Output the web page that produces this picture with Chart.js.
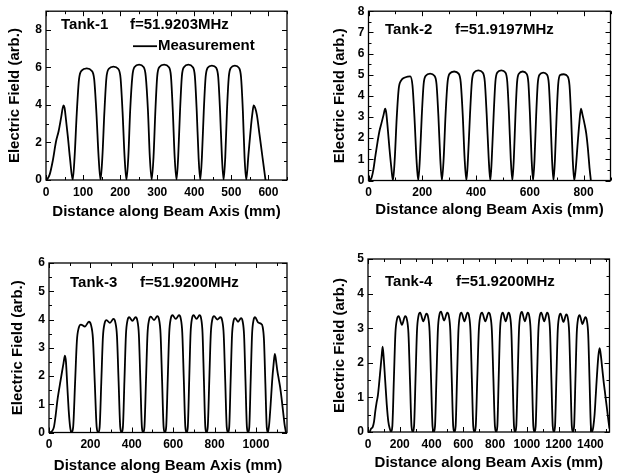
<!DOCTYPE html>
<html>
<head>
<meta charset="utf-8">
<script src="https://cdn.jsdelivr.net/npm/chart.js@4.4.1/dist/chart.umd.min.js"></script>
<style>
  body { margin: 0; background: #fff; }
  #wrap { position: relative; width: 618px; height: 475px; }
  #wrap canvas { position: absolute; }
</style>
</head>
<body>
<div id="wrap">
  <canvas id="tank1" style="left:0;top:0"></canvas>
  <canvas id="tank2" style="left:309px;top:0"></canvas>
  <canvas id="tank3" style="left:0;top:237px"></canvas>
  <canvas id="tank4" style="left:309px;top:237px"></canvas>
</div>
<script>
// ---- Tank-1 ----
const tank1X = [
  2, 10, 18, 27, 34, 41, 47, 50, 54, 59, 65,
  72, 77, 83, 89, 96, 110, 123, 130, 136, 142,
  147, 152, 157.5, 163, 169.5, 182, 194.5, 201, 206.5, 212,
  217, 222, 227, 233, 239, 251, 263, 269, 275, 280,
  285, 290, 295, 300, 306, 318.5, 331, 337, 342, 347,
  352, 356.5, 361.5, 366.5, 372.5, 384, 395.5, 401.5, 406.5, 411.5,
  416, 420.5, 425.5, 430.5, 436, 447.5, 459, 464.5, 469.5, 474.5,
  479, 483.5, 488, 493, 498.5, 509.5, 520.5, 526, 531, 535.5,
  540, 546, 553, 557, 560, 564, 569, 576, 584, 592
];
const tank1Y = [
  0, 0.3, 1.0, 2.05, 2.6, 3.35, 3.98, 3.85, 3.2, 2.3, 1.1,
  0, 1.19, 3.57, 5.36, 5.83, 5.95, 5.83, 5.36, 3.57, 1.19,
  0, 1.21, 3.63, 5.45, 5.93, 6.05, 5.93, 5.45, 3.63, 1.21,
  0, 1.23, 3.69, 5.54, 6.03, 6.15, 6.03, 5.54, 3.69, 1.23,
  0, 1.23, 3.69, 5.54, 6.03, 6.15, 6.03, 5.54, 3.69, 1.23,
  0, 1.23, 3.69, 5.54, 6.03, 6.15, 6.03, 5.54, 3.69, 1.23,
  0, 1.22, 3.66, 5.49, 5.98, 6.1, 5.98, 5.49, 3.66, 1.22,
  0, 1.22, 3.66, 5.49, 5.98, 6.1, 5.98, 5.49, 3.66, 1.22,
  0, 1.35, 2.9, 3.6, 3.98, 3.85, 3.45, 2.4, 1.2, 0
];
const tank1XTicks = [0, 100, 200, 300, 400, 500, 600];
const tank1XMinor = [50, 150, 250, 350, 450, 550, 650];
const tank1YTicks = [0, 2, 4, 6, 8];
const tank1YMinor = [1, 3, 5, 7, 9];

// ---- Tank-2 ----
const tank2X = [
  5, 12, 18, 26, 34, 41, 48, 56, 62, 66, 72, 78, 85,
  91, 97.5, 105, 112.5, 121, 138, 155, 163.5, 171, 178.5,
  185, 191, 198, 205, 213, 229, 245, 253, 260, 267,
  273, 279.5, 286.5, 294, 302, 318.5, 335, 343, 350.5, 357.5,
  364, 370, 377.5, 384.5, 392.5, 408.5, 424.5, 432.5, 439.5, 447,
  453, 458.5, 465.5, 472, 479, 494, 509, 516, 522.5, 529,
  535, 540.5, 546.5, 552.5, 559.5, 573.5, 587.5, 594.5, 600.5, 606.5,
  612, 617.5, 623.5, 629.5, 636, 650, 664, 670.5, 676.5, 682.5,
  688, 693.5, 699.5, 705.5, 712.5, 726.5, 740.5, 747.5, 753.5, 759.5,
  765, 771, 777, 784, 790, 796, 803, 810, 816, 822, 827
];
const tank2Y = [
  0, 0.15, 0.5, 1.2, 1.85, 2.35, 2.7, 3.1, 3.4, 3.2, 2.4, 1.5, 0.6,
  0, 0.99, 2.97, 4.35, 4.72, 4.88, 4.92, 4.5, 2.97, 0.99,
  0, 1.01, 3.03, 4.55, 4.95, 5.05, 4.95, 4.55, 3.03, 1.01,
  0, 1.03, 3.09, 4.64, 5.05, 5.15, 5.05, 4.64, 3.09, 1.03,
  0, 1.04, 3.12, 4.68, 5.1, 5.2, 5.1, 4.68, 3.12, 1.04,
  0, 1.04, 3.12, 4.68, 5.1, 5.2, 5.1, 4.68, 3.12, 1.04,
  0, 1.03, 3.09, 4.64, 5.05, 5.15, 5.05, 4.64, 3.09, 1.03,
  0, 1.02, 3.06, 4.59, 5.0, 5.1, 5.0, 4.59, 3.06, 1.02,
  0, 1.01, 3.03, 4.55, 4.98, 5.02, 4.92, 4.5, 3.03, 1.01,
  0, 0.6, 1.6, 2.7, 3.4, 3.1, 2.7, 2.2, 1.5, 0.6, 0
];
const tank2XTicks = [0, 200, 400, 600, 800];
const tank2XMinor = [100, 300, 500, 700, 900];
const tank2YTicks = [0, 1, 2, 3, 4, 5, 6, 7, 8];
const tank2YMinor = [0.5, 1.5, 2.5, 3.5, 4.5, 5.5, 6.5, 7.5];

// ---- Tank-3 ----
const tank3X = [
  5, 15, 24, 32, 40, 46, 55, 63, 70, 77, 82, 88, 95, 102,
  109, 116.7, 125.8, 134.8, 143.8, 154.2, 173.5, 192.9, 203.2, 212.2, 221.2, 230.3,
  238, 244.8, 252.7, 260.6, 268.5, 277.6, 294.5, 311.5, 320.5, 328.4, 336.3, 344.2,
  351, 357.2, 364.5, 371.8, 379.1, 387.4, 403, 418.6, 426.9, 434.2, 441.5, 448.8,
  455, 461.3, 468.7, 476, 483.4, 491.8, 507.5, 523.3, 531.7, 539, 546.4, 553.7,
  560, 566.3, 573.7, 581, 588.4, 596.8, 612.5, 628.3, 636.7, 644, 651.4, 658.7,
  665, 670.8, 677.5, 684.2, 690.9, 698.6, 713, 727.4, 735.1, 741.8, 748.5, 755.2,
  761, 767.2, 774.5, 781.8, 789.1, 797.4, 813, 828.6, 836.9, 844.2, 851.5, 858.8,
  865, 870.8, 877.6, 884.4, 891.2, 899, 913.5, 928, 935.8, 942.6, 949.4, 956.2,
  962, 967.8, 974.5, 981.2, 987.9, 995.6, 1010, 1024.4, 1032.1, 1038.8, 1045.5, 1052.2,
  1058, 1064, 1071, 1078, 1085, 1091, 1096, 1103, 1110, 1117, 1124, 1131, 1138, 1145
];
const tank3Y = [
  0, 0.05, 0.2, 0.6, 1.1, 1.4, 1.8, 2.15, 2.45, 2.72, 2.5, 1.7, 0.8, 0.2,
  0, 0.19, 1.72, 3.25, 3.71, 3.82, 3.75, 3.92, 3.8, 3.33, 1.76, 0.2,
  0, 0.2, 1.79, 3.38, 3.86, 3.98, 3.88, 4.02, 3.9, 3.42, 1.81, 0.2,
  0, 0.2, 1.84, 3.47, 3.96, 4.08, 3.95, 4.08, 3.96, 3.47, 1.84, 0.2,
  0, 0.21, 1.85, 3.49, 3.98, 4.1, 3.98, 4.12, 4.0, 3.5, 1.85, 0.21,
  0, 0.21, 1.87, 3.53, 4.03, 4.15, 4.02, 4.15, 4.03, 3.53, 1.87, 0.21,
  0, 0.21, 1.87, 3.53, 4.03, 4.15, 4.02, 4.15, 4.03, 3.53, 1.87, 0.21,
  0, 0.21, 1.85, 3.5, 4.0, 4.12, 4.0, 4.08, 3.96, 3.47, 1.84, 0.2,
  0, 0.2, 1.82, 3.44, 3.93, 4.05, 3.92, 4.05, 3.93, 3.44, 1.82, 0.2,
  0, 0.2, 1.84, 3.47, 3.96, 4.08, 3.9, 3.85, 3.75, 3.27, 1.73, 0.19,
  0, 0.3, 1.0, 1.8, 2.4, 2.78, 2.6, 2.2, 1.9, 1.6, 1.2, 0.75, 0.3, 0
];
const tank3XTicks = [0, 200, 400, 600, 800, 1000];
const tank3XMinor = [100, 300, 500, 700, 900, 1100];
const tank3YTicks = [0, 1, 2, 3, 4, 5, 6];
const tank3YMinor = [0.5, 1.5, 2.5, 3.5, 4.5, 5.5];

// ---- Tank-4 ----
const tank4X = [
  10, 20, 30, 38, 46, 54, 62, 70, 78, 86, 92, 98, 108, 118, 128, 137,
  145, 153.2, 162.8, 172.4, 182, 193, 213.5, 234, 245, 254.6, 264.2, 273.8,
  282, 289.9, 299.2, 308.4, 317.6, 328.2, 348, 367.8, 378.4, 387.6, 396.8, 406.1,
  414, 421.8, 430.9, 440, 449.1, 459.5, 479, 498.5, 508.9, 518, 527.1, 536.2,
  544, 551.6, 560.4, 569.2, 578, 588.1, 607, 625.9, 636, 644.8, 653.6, 662.4,
  670, 678.2, 687.8, 697.4, 707, 718, 738.5, 759, 770, 779.6, 789.2, 798.8,
  807, 814.1, 822.5, 830.8, 839.1, 848.7, 866.5, 884.4, 893.9, 902.2, 910.5, 918.9,
  926, 933.3, 941.9, 950.4, 958.9, 968.7, 987, 1005.3, 1015.1, 1023.6, 1032.1, 1040.7,
  1048, 1055.3, 1063.9, 1072.4, 1080.9, 1090.7, 1109, 1127.3, 1137.1, 1145.6, 1154.1, 1162.7,
  1170, 1177.2, 1185.6, 1194, 1202.4, 1212, 1230, 1248, 1257.6, 1266, 1274.4, 1282.8,
  1290, 1297.2, 1305.6, 1314, 1322.4, 1332, 1350, 1368, 1377.6, 1386, 1394.4, 1402.8,
  1410, 1418, 1426, 1434, 1442, 1450, 1458, 1466, 1474, 1482, 1490, 1498, 1506, 1514, 1520
];
const tank4Y = [
  0, 0.1, 0.15, 0.3, 0.6, 0.85, 1.05, 1.4, 1.8, 2.2, 2.47, 2.2, 1.5, 0.8, 0.3, 0.1,
  0, 0.17, 1.51, 2.85, 3.25, 3.35, 3.1, 3.35, 3.25, 2.85, 1.51, 0.17,
  0, 0.17, 1.55, 2.93, 3.35, 3.45, 3.2, 3.42, 3.32, 2.91, 1.54, 0.17,
  0, 0.17, 1.57, 2.96, 3.38, 3.48, 3.22, 3.45, 3.35, 2.93, 1.55, 0.17,
  0, 0.17, 1.55, 2.93, 3.35, 3.45, 3.2, 3.45, 3.35, 2.93, 1.55, 0.17,
  0, 0.17, 1.55, 2.93, 3.35, 3.45, 3.2, 3.45, 3.35, 2.93, 1.55, 0.17,
  0, 0.17, 1.55, 2.93, 3.35, 3.45, 3.2, 3.45, 3.35, 2.93, 1.55, 0.17,
  0, 0.17, 1.56, 2.95, 3.37, 3.47, 3.2, 3.45, 3.35, 2.93, 1.55, 0.17,
  0, 0.17, 1.55, 2.93, 3.35, 3.45, 3.2, 3.45, 3.35, 2.93, 1.55, 0.17,
  0, 0.17, 1.54, 2.91, 3.32, 3.42, 3.18, 3.4, 3.3, 2.89, 1.53, 0.17,
  0, 0.17, 1.52, 2.87, 3.28, 3.38, 3.12, 3.32, 3.22, 2.82, 1.49, 0.17,
  0, 0.15, 0.5, 1.1, 1.7, 2.2, 2.42, 2.2, 1.85, 1.5, 1.2, 0.9, 0.6, 0.3, 0.1
];
const tank4XTicks = [0, 200, 400, 600, 800, 1000, 1200, 1400];
const tank4XMinor = [100, 300, 500, 700, 900, 1100, 1300, 1500];
const tank4YTicks = [0, 1, 2, 3, 4, 5];
const tank4YMinor = [0.5, 1.5, 2.5, 3.5, 4.5];

const FONT = '"Liberation Sans", Arial, Helvetica, sans-serif';

// box round the plot, inward ticks on all four sides, text inside the plot
const framePlugin = {
  id: "frame",
  afterDatasetsDraw(chart, args, opts) {
    const { ctx, chartArea: a, scales } = chart;
    const x = scales.x, y = scales.y;
    ctx.save();
    ctx.strokeStyle = "#000";
    ctx.lineWidth = 1.3;
    ctx.strokeRect(a.left, a.top, a.right - a.left, a.bottom - a.top);

    ctx.lineWidth = 1;
    ctx.beginPath();
    const xt = (vals, len) => vals.forEach(function (v) {
      const p = Math.round(x.getPixelForValue(v)) + 0.5;
      ctx.moveTo(p, a.bottom); ctx.lineTo(p, a.bottom - len);
      ctx.moveTo(p, a.top); ctx.lineTo(p, a.top + len);
    });
    const yt = (vals, len) => vals.forEach(function (v) {
      const p = Math.round(y.getPixelForValue(v)) + 0.5;
      ctx.moveTo(a.left, p); ctx.lineTo(a.left + len, p);
      ctx.moveTo(a.right, p); ctx.lineTo(a.right - len, p);
    });
    xt(opts.xMajor, 5); xt(opts.xMinor, 3);
    yt(opts.yMajor, 5); yt(opts.yMinor, 3);
    ctx.stroke();

    ctx.fillStyle = "#000";
    ctx.font = "bold 15px " + FONT;
    ctx.textBaseline = "middle";
    ctx.textAlign = "left";
    opts.labels.forEach(function (t) {
      ctx.fillText(t.text, a.left + t.dx, a.top + t.dy);
    });

    if (opts.legend) {
      const ds = chart.data.datasets[0];
      const lg = opts.legend;
      ctx.strokeStyle = ds.borderColor;
      ctx.lineWidth = ds.borderWidth;
      ctx.beginPath();
      ctx.moveTo(a.left + lg.dx, a.top + lg.dy);
      ctx.lineTo(a.left + lg.dx + lg.len, a.top + lg.dy);
      ctx.stroke();
      ctx.fillText(ds.label, a.left + lg.dx + lg.len + 1, a.top + lg.dy);
    }
    ctx.restore();
  },
};

function makePanel(p) {
  const canvas = document.getElementById(p.id);
  canvas.width = p.w;
  canvas.height = p.h;
  const points = p.xs.map(function (v, i) { return { x: v, y: p.ys[i] }; });

  return new Chart(canvas, {
    type: "scatter",
    data: {
      datasets: [{
        label: "Measurement",
        data: points,
        showLine: true,
        borderColor: "#000",
        borderWidth: 1.8,
        pointRadius: 0,
        cubicInterpolationMode: "monotone",
      }],
    },
    options: {
      responsive: false,
      animation: false,
      devicePixelRatio: 1,
      layout: { padding: { left: 0, top: p.padTop, right: p.padRight, bottom: 0 } },
      plugins: {
        legend: { display: false },
        tooltip: { enabled: false },
        frame: {
          xMajor: p.xTicks, xMinor: p.xMinor,
          yMajor: p.yTicks, yMinor: p.yMinor,
          labels: p.labels, legend: p.legend,
        },
      },
      scales: {
        x: {
          type: "linear",
          min: 0,
          max: p.xMax,
          afterBuildTicks: function (s) { s.ticks = p.xTicks.map(function (v) { return { value: v }; }); },
          afterFit: function (s) { s.height = p.xAxisH; },
          grid: { display: false, drawTicks: false },
          border: { display: false },
          ticks: {
            color: "#000", padding: 5, autoSkip: false, maxRotation: 0,
            font: { family: FONT, size: 12, weight: "bold" },
            callback: function (v) { return String(v); },
          },
          title: {
            display: true, text: "Distance along Beam Axis (mm)", color: "#000",
            font: { family: FONT, size: 15, weight: "bold" },
            padding: { top: 0, bottom: p.xTitlePad },
          },
        },
        y: {
          type: "linear",
          min: 0,
          max: p.yMax,
          afterBuildTicks: function (s) { s.ticks = p.yTicks.map(function (v) { return { value: v }; }); },
          afterFit: function (s) { s.width = p.yAxisW; },
          grid: { display: false, drawTicks: false },
          border: { display: false },
          ticks: {
            color: "#000", padding: 4, autoSkip: false,
            font: { family: FONT, size: 12, weight: "bold" },
            callback: function (v) { return String(v); },
          },
          title: {
            display: true, text: "Electric Field (arb.)", color: "#000",
            font: { family: FONT, size: 15, weight: "bold" },
            padding: { top: p.yTitlePad, bottom: 0 },
          },
        },
      },
    },
    plugins: [framePlugin],
  });
}

makePanel({
  id: "tank1", w: 309, h: 237, padTop: 6, padRight: 22, yAxisW: 46, xAxisH: 57,
  xs: tank1X, ys: tank1Y, xMax: 650, yMax: 9,
  xTicks: tank1XTicks, xMinor: tank1XMinor, yTicks: tank1YTicks, yMinor: tank1YMinor,
  xTitlePad: 16, yTitlePad: 6,
  labels: [{ text: "Tank-1", dx: 15, dy: 14 }, { text: "f=51.9203MHz", dx: 84, dy: 14 }],
  legend: { dx: 87, dy: 35, len: 24 },
});

makePanel({
  id: "tank2", w: 309, h: 237, padTop: 9.5, padRight: 7.5, yAxisW: 59.5, xAxisH: 56.5,
  xs: tank2X, ys: tank2Y, xMax: 900, yMax: 8,
  xTicks: tank2XTicks, xMinor: tank2XMinor, yTicks: tank2YTicks, yMinor: tank2YMinor,
  xTitlePad: 18, yTitlePad: 21.5,
  labels: [{ text: "Tank-2", dx: 16.5, dy: 18.5 }, { text: "f=51.9197MHz", dx: 86.5, dy: 18.5 }],
});

makePanel({
  id: "tank3", w: 309, h: 238, padTop: 26, padRight: 22, yAxisW: 49, xAxisH: 42.5,
  xs: tank3X, ys: tank3Y, xMax: 1150, yMax: 6,
  xTicks: tank3XTicks, xMinor: tank3XMinor, yTicks: tank3YTicks, yMinor: tank3YMinor,
  xTitlePad: 0, yTitlePad: 9,
  labels: [{ text: "Tank-3", dx: 21, dy: 20 }, { text: "f=51.9200MHz", dx: 91, dy: 20 }],
});

makePanel({
  id: "tank4", w: 309, h: 238, padTop: 22, padRight: 8.5, yAxisW: 59, xAxisH: 43,
  xs: tank4X, ys: tank4Y, xMax: 1520, yMax: 5,
  xTicks: tank4XTicks, xMinor: tank4XMinor, yTicks: tank4YTicks, yMinor: tank4YMinor,
  xTitlePad: 3, yTitlePad: 21.5,
  labels: [{ text: "Tank-4", dx: 17, dy: 22.7 }, { text: "f=51.9200MHz", dx: 88, dy: 22.7 }],
});
</script>
</body>
</html>
